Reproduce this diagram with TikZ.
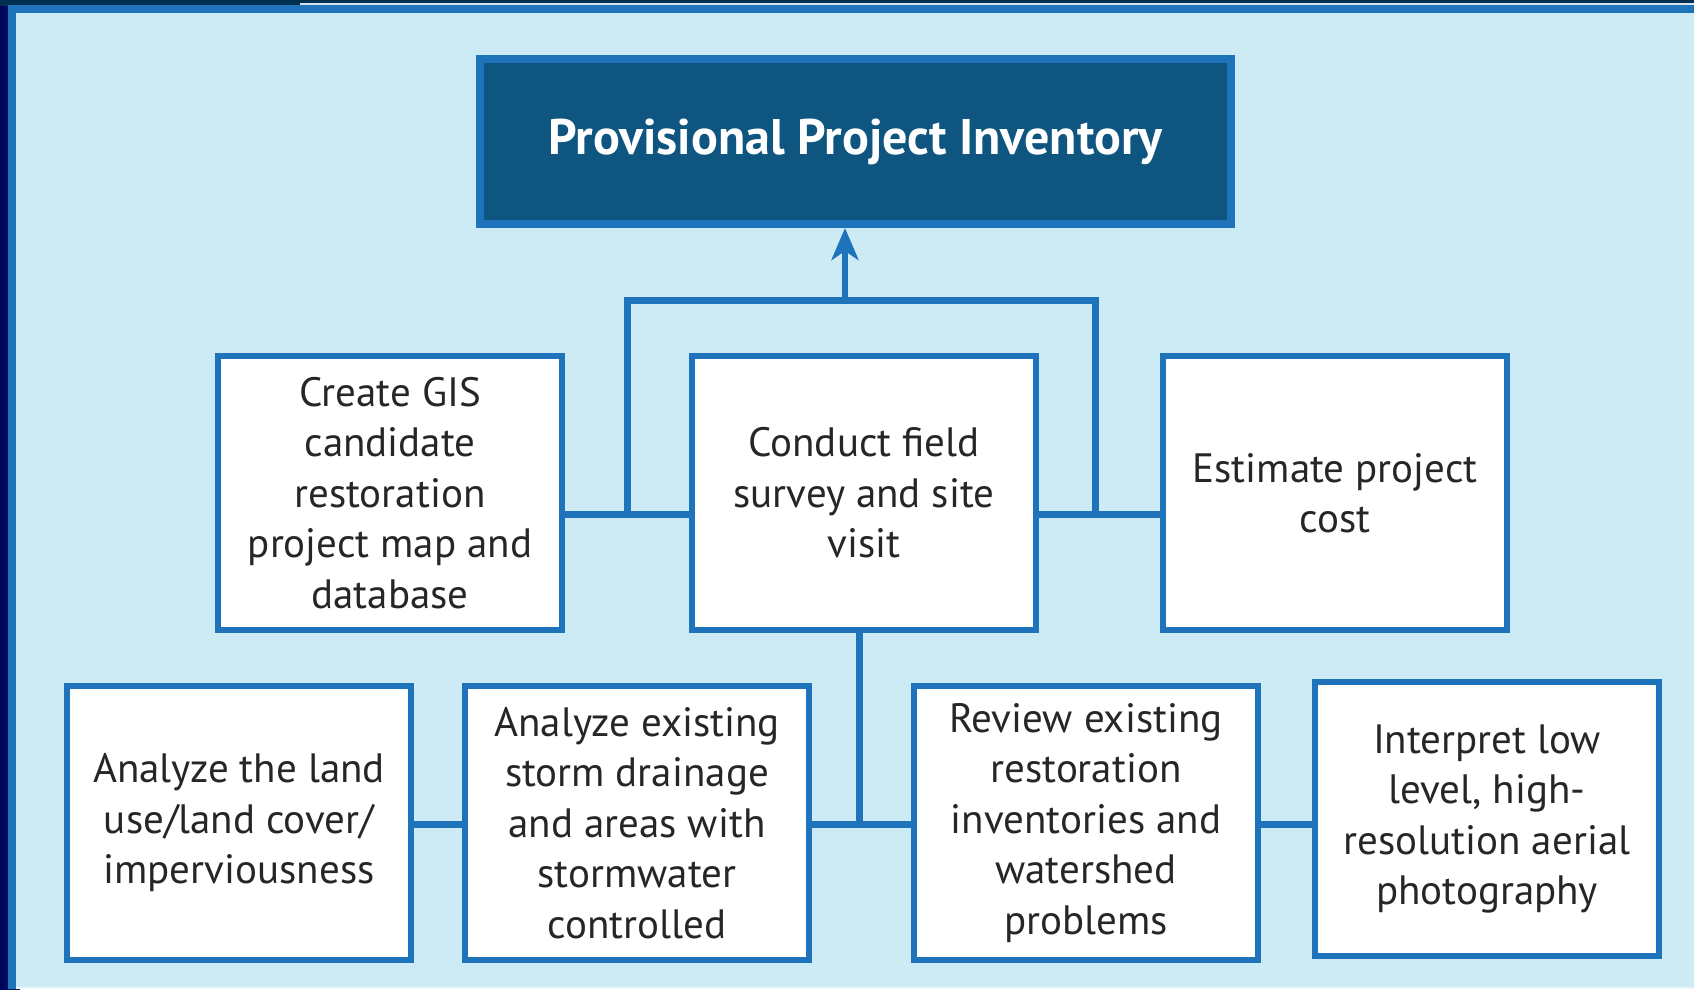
\documentclass[tikz,border=0pt]{standalone}
\usepackage{fontspec}
\setmainfont{PT Sans}
\usetikzlibrary{arrows.meta}
\definecolor{bgblue}{HTML}{CDEBF5}
\definecolor{lineblue}{HTML}{1F73BA}
\definecolor{titlefill}{HTML}{0E5580}
\definecolor{navyA}{HTML}{00005E}
\definecolor{navyB}{HTML}{003050}
\definecolor{txt}{HTML}{262626}
\tikzset{
  stepbox/.style={draw=lineblue, line width=6pt, fill=white, minimum width=344pt,
    minimum height=274pt, inner sep=0pt, align=center, text=txt,
    font=\fontsize{41}{50.5}\selectfont},
  titlebox/.style={draw=lineblue, line width=8pt, fill=titlefill, minimum width=751pt,
    minimum height=165pt, inner sep=0pt, text=white,
    font=\fontsize{50}{56}\selectfont\bfseries},
  conn/.style={draw=lineblue, line width=7pt},
}
\begin{document}
\begin{tikzpicture}[x=1pt,y=-1pt]
\useasboundingbox (0,0) rectangle (1694,989);
% frame
\fill[left color=navyA, right color=navyB] (0,0) rectangle (20,989);
\fill[navyB] (0,0) rectangle (1694,6);
\fill[white!80!lineblue] (300,3) rectangle (1694,4.5);
\fill[lineblue] (8,5) rectangle (1694,989);
\fill[bgblue] (16,13) rectangle (1694,987);
\fill[white!60!bgblue] (16,987) rectangle (1694,989);
% title
\node[titlebox] (title) at (855.5,141.5) {Provisional Project Inventory};
% boxes
\node[stepbox] (gis) at (390,493) {Create GIS\\candidate\\restoration\\project map and\\database};
\node[stepbox] (field) at (864,493) {Conduct field\\survey and site\\visit};
\node[stepbox] (cost) at (1335,493) {Estimate project\\cost};
\node[stepbox] (land) at (239,823) {Analyze the land\\use/land cover/\\imperviousness};
\node[stepbox] (storm) at (637,823) {Analyze existing\\storm drainage\\and areas with\\stormwater\\controlled};
\node[stepbox] (review) at (1086,823) {Review existing\\restoration\\inventories and\\watershed\\problems};
\node[stepbox] (photo) at (1487,819) {Interpret low\\level, high-\\resolution aerial\\photography};
% helper coordinates
\coordinate (hup) at (0,514);
\coordinate (hlow) at (0,824);
\coordinate (bl) at (627,514);
\coordinate (br) at (1095,514);
\coordinate (btl) at (627,300);
\coordinate (btr) at (1095,300);
\coordinate (arrbase) at (845,300);
\coordinate (drop) at (859,824);
% connectors
\draw[conn] (gis.east |- hup) -- (field.west |- hup);
\draw[conn] (field.east |- hup) -- (cost.west |- hup);
\draw[conn] (bl) -- (btl) -- (btr) -- (br);
\draw[conn, line width=6pt, -{Stealth[length=32pt,width=27pt,inset=9pt]}] (arrbase) -- (arrbase |- title.south);
\draw[conn] (field.south -| drop) -- (drop);
\draw[conn] (storm.east |- hlow) -- (review.west |- hlow);
\draw[conn] (land.east |- hlow) -- (storm.west |- hlow);
\draw[conn] (review.east |- hlow) -- (photo.west |- hlow);
\end{tikzpicture}
\end{document}
